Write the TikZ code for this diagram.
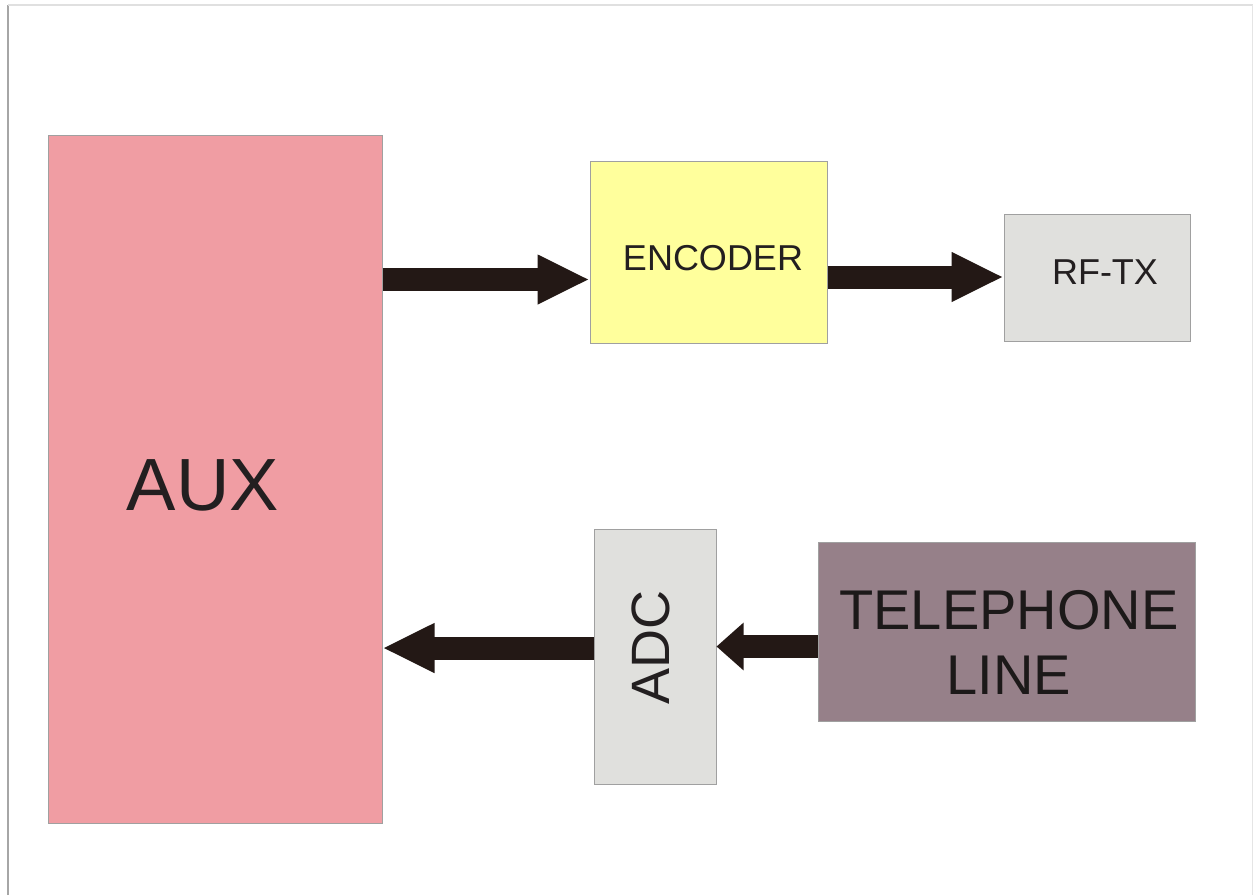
\documentclass[tikz,border=0pt]{standalone}
\usepackage{fontspec}
\setmainfont{Liberation Sans}
\usetikzlibrary{arrows.meta}
\definecolor{pinkc}{RGB}{240,157,163}
\definecolor{yellowc}{RGB}{255,255,156}
\definecolor{grayc}{RGB}{224,224,221}
\definecolor{mauvec}{RGB}{150,128,137}
\definecolor{arrowc}{RGB}{35,24,21}
\definecolor{textc}{RGB}{35,31,32}
\definecolor{borderc}{RGB}{160,160,160}
\tikzset{
  box/.style={draw=borderc, line width=1pt, inner sep=0pt, text=textc, align=center},
  barrow/.style={draw=arrowc, line width=23pt, -{Triangle[length=52pt,width=46pt]}},
}
\begin{document}
\begin{tikzpicture}[x=1pt,y=-1pt]
\useasboundingbox (0,0) rectangle (1253,895);
\draw[draw=black!35, line width=2pt] (8,895) -- (8,5);
\draw[draw=black!12, line width=2pt] (8,5) -- (1253,5);
\draw[draw=black!10, line width=1pt] (1252,5) -- (1252,895);
\node[box, fill=pinkc, minimum width=334pt, minimum height=688pt] (aux) at (215,479) {};
\node[text=textc, font=\fontsize{74}{78}\selectfont] (auxt) at (203,485) {AUX};
\node[box, fill=yellowc, minimum width=237pt, minimum height=182pt] (enc) at (708.5,252) {};
\node[text=textc, font=\fontsize{36}{40}\selectfont] (enct) at (713,258) {ENCODER};
\node[box, fill=grayc, minimum width=186pt, minimum height=127pt] (rf) at (1097,277.5) {};
\node[text=textc, font=\fontsize{36}{40}\selectfont] (rft) at (1105,272) {RF-TX};
\node[box, fill=grayc, minimum width=122pt, minimum height=255pt] (adc) at (655,656.5) {};
\node[text=textc, font=\fontsize{54}{58}\selectfont, rotate=90] (adct) at (651,647) {ADC};
\node[box, fill=mauvec, minimum width=377pt, minimum height=179pt] (tel) at (1006.5,631.5) {};
\node[text=textc!80!black, font=\fontsize{56}{65}\selectfont, align=center] (telt) at (1009,642) {TELEPHONE\\LINE};
\draw[barrow] (aux.east |- {(0,279.5)}) -- (enc.west |- {(0,279.5)});
\draw[barrow] (enc.east |- {(0,277)}) -- (rf.west |- {(0,277)});
\draw[barrow] (adc.west |- {(0,648)}) -- (aux.east |- {(0,648)});
\draw[draw=arrowc, line width=23pt, -{Triangle[length=27pt,width=46pt]}] (tel.west |- {(0,646.5)}) -- (adc.east |- {(0,646.5)});
\end{tikzpicture}
\end{document}
